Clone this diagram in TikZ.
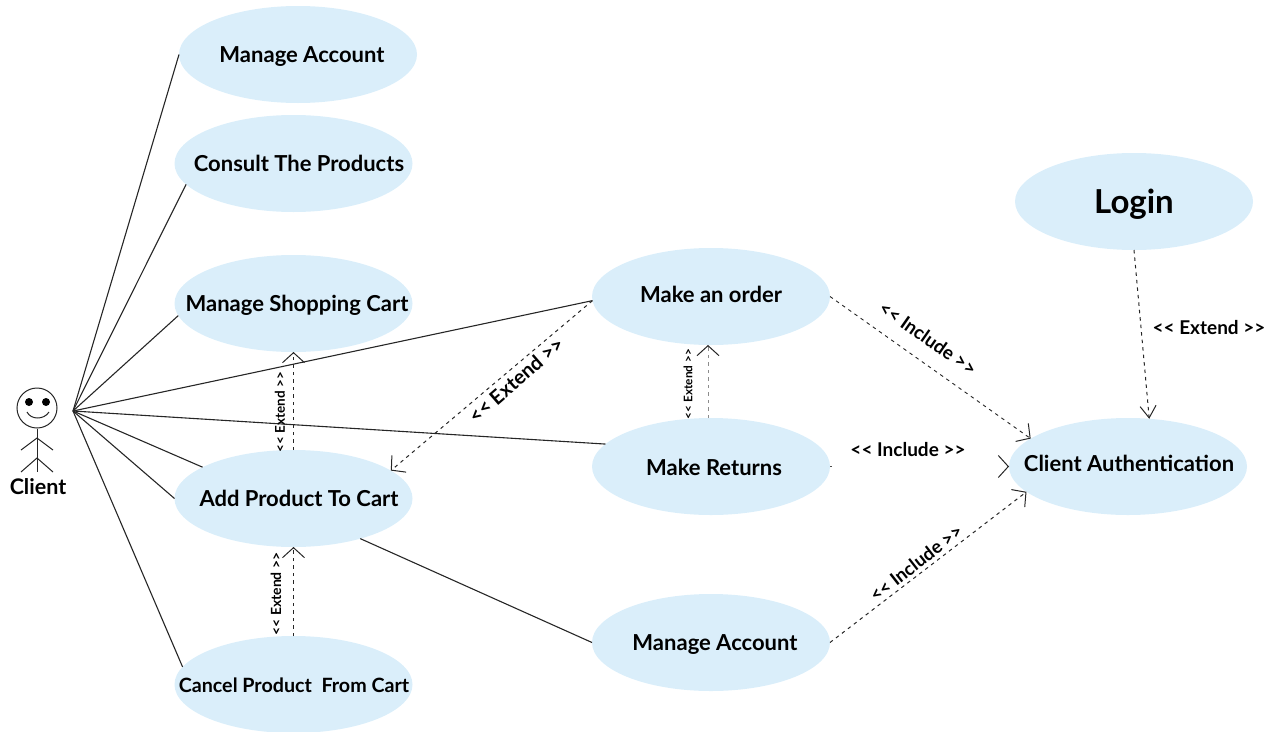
\documentclass[tikz,border=0pt]{standalone}
\usepackage{fontspec}
\setmainfont{Lato}
\usetikzlibrary{arrows.meta,shapes.geometric}
\newcommand\uctext[3]{\makebox[0pt]{\raisebox{#2}[0pt][0pt]{\kern#1 #3}}}
\tikzset{
  usecase/.style={ellipse,fill=ucblue,draw=none,minimum width=238pt,minimum height=97pt,inner sep=0pt,outer sep=0pt,font=\fontsize{22}{26}\selectfont\bfseries,text=black},
  assoc/.style={draw=black!85,line width=1.1pt},
  dep/.style={draw=black!85,line width=1pt,dash pattern=on 3.5pt off 4pt,-{Straight Barb[length=10pt,width=22pt,line width=1pt,black!85]}},
  tag/.style={font=\bfseries,text=black,inner sep=0pt},
  stick/.style={draw=black!85,line width=1pt}
}
\definecolor{ucblue}{HTML}{DAEEFA}
\begin{document}
\begin{tikzpicture}[x=1pt,y=-1pt]
\useasboundingbox (0,0) rectangle (1277,731);
\node[usecase] (ma) at (298,54.5) {\uctext{8pt}{-7.5pt}{Manage Account}};
\node[usecase] (cp) at (293.5,163.5) {\uctext{11pt}{-7.5pt}{Consult The Products}};
\node[usecase] (sc) at (293.5,303.5) {\uctext{7pt}{-7.5pt}{Manage Shopping Cart}};
\node[usecase] (ad) at (293.5,498.5) {\uctext{11pt}{-7.5pt}{Add Product To Cart}};
\node[usecase] (cc) at (293.5,684.5) {\uctext{1pt}{-8pt}{\fontsize{19.7}{22}\selectfont Cancel Product\ \ From Cart}};
\node[usecase] (mo) at (711,296.5) {\uctext{0pt}{-5.5pt}{Make an order}};
\node[usecase] (mr) at (711,466.5) {\uctext{6pt}{-8.5pt}{Make Returns}};
\node[usecase] (mb) at (711,642.5) {\uctext{8pt}{-7.5pt}{Manage Account}};
\node[usecase] (lg) at (1134,201.5) {\uctext{0pt}{-11.5pt}{\fontsize{33}{38}\selectfont Login}};
\node[usecase] (au) at (1128,466.5) {\uctext{2pt}{-4.5pt}{Client Authentication}};
% actor
\coordinate (hub) at (73,411);
\node[circle,draw=black!85,line width=1pt,fill=white,minimum size=40pt,inner sep=0pt] (head) at (37,408) {};
\node[circle,fill=black,minimum size=8pt,inner sep=0pt] (eyeL) at (29,402) {};
\node[circle,fill=black,minimum size=8pt,inner sep=0pt] (eyeR) at (46,402) {};
\draw[stick] (27,412) .. controls (31,420) and (44,420) .. (49,412);
\coordinate (hip) at (37,458);
\coordinate (neck) at (37,438);
\draw[stick] (head.south) -- (37,472);
\draw[stick] (21,450) -- (neck) -- (53,450);
\draw[stick] (21,472) -- (hip) -- (53,472);
\node[tag,font=\fontsize{21.5}{24}\selectfont\bfseries] (cl) at (38,487) {Client};
% associations
\draw[assoc] (hub) -- (ma.west);
\draw[assoc] (hub) -- (cp.191.4);
\draw[assoc] (hub) -- (sc.186.5);
\draw[assoc] (hub) -- (mo.182.2);
\draw[assoc] (hub) -- (mr.168);
\draw[assoc] (hub) -- (ad.161.4);
\draw[assoc] (hub) -- (ad.west);
\draw[assoc] (hub) -- (cc.171);
\draw[assoc] (ad.-31.6) -- (mb.west);
% dependencies
\draw[dep] (ad.north) -- (sc.south);
\draw[dep] (cc.north) -- (ad.south);
\draw[dep,draw=black!45,-{Straight Barb[length=10pt,width=22pt,line width=1pt,black!85]}] ([xshift=-3pt]mr.north) -- ([xshift=-3pt]mo.south);
\draw[dep] (mo.182) -- (ad.16);
\draw[dep,line width=.9pt] (mo.east) -- (au.164);
\draw[dep,draw=white,-{Straight Barb[length=10pt,width=22pt,line width=1pt,black!85]}] (mr.east) -- (au.west);
\draw[draw=black!70,line width=1pt] (mr.east) -- ++(2,0);
\draw[dep] (mb.east) -- (au.194);
\draw[dep,-{Straight Barb[length=12pt,width=16pt,line width=1pt,black!85]}] (lg.south) -- (au.66.6);
% labels
\node[tag,rotate=90,font=\fontsize{13.5}{15}\selectfont\bfseries] (t1) at (280,412) {<{}< Extend >{}>};
\node[tag,rotate=90,font=\fontsize{14}{16}\selectfont\bfseries] (t2) at (276,594) {<{}< Extend >{}>};
\node[tag,rotate=90,font=\fontsize{11.8}{14}\selectfont\bfseries] (t3) at (688,384) {<{}< Extend >{}>};
\node[tag,rotate=41,font=\fontsize{20}{22}\selectfont\bfseries] (t4) at (516,380) {<{}< Extend >{}>};
\node[tag,rotate=-35,font=\fontsize{18.8}{22}\selectfont\bfseries] (t5) at (928,338) {<{}< Include >{}>};
\node[tag,font=\fontsize{19}{22}\selectfont\bfseries] (t6) at (908,450) {<{}< Include >{}>};
\node[tag,rotate=38,font=\fontsize{18.5}{22}\selectfont\bfseries] (t7) at (916,563) {<{}< Include >{}>};
\node[tag,font=\fontsize{19}{22}\selectfont\bfseries] (t8) at (1209,328) {<{}< Extend >{}>};
\end{tikzpicture}
\end{document}
